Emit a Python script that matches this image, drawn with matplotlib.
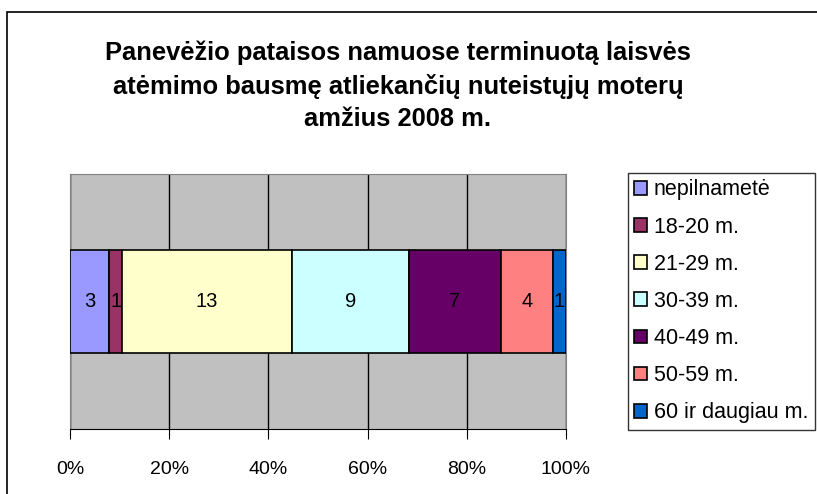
import matplotlib.pyplot as plt
from matplotlib.patches import Rectangle

plt.rcParams['font.family'] = ['Liberation Sans', 'DejaVu Sans']

# age groups of sentenced women, 2008
groups = ["nepilnametė", "18-20 m.", "21-29 m.", "30-39 m.", "40-49 m.", "50-59 m.", "60 ir daugiau m."]
counts = [3, 1, 13, 9, 7, 4, 1]
colors = ["#9999FF", "#993366", "#FFFFCC", "#CCFFFF", "#660066", "#FF8080", "#0066CC"]

total = sum(counts)
shares = [c / total * 100 for c in counts]

fig = plt.figure(figsize=(8.17, 4.94), dpi=100)
fig.patches.append(Rectangle((7 / 817, -0.1), 1.2, 1 - 12 / 494 + 0.1, transform=fig.transFigure,
                             fill=False, edgecolor="black", linewidth=1.2))

ax = fig.add_axes([70 / 817, 1 - 429 / 494, 496 / 817, 255 / 494])
ax.set_facecolor("#C0C0C0")

left = 0
for g, c, s, col in zip(groups, counts, shares, colors):
    ax.barh(0, s, left=left, height=0.4, color=col, edgecolor="black", linewidth=1.2, label=g, zorder=3)
    ax.text(left + s / 2, 0, str(c), ha="center", va="center", fontsize=14.5, color="black", zorder=4)
    left += s

ax.set_xlim(0, 100)
ax.set_ylim(-0.5, 0.5)
ax.set_xticks([0, 20, 40, 60, 80, 100])
ax.set_xticklabels([f"{v}%" for v in range(0, 101, 20)], fontsize=14)
ax.set_yticks([])
ax.xaxis.grid(True, color="black", linewidth=1, zorder=0)
ax.set_axisbelow(True)
ax.tick_params(axis="x", direction="out", length=7, pad=16)
for sp in ["top", "left", "right"]:
    ax.spines[sp].set_color("#808080")
ax.spines["bottom"].set_color("black")

fig.text(398 / 817, 1 - 86 / 494,
         "Panevėžio pataisos namuose terminuotą laisvės\natėmimo bausmę atliekančių nuteistųjų moterų\namžius 2008 m.",
         ha="center", va="center", fontsize=18.4, fontweight="bold", linespacing=1.43)

leg = fig.legend(loc="upper left", bbox_to_anchor=(628 / 817, 1 - 173 / 494), fontsize=15.5,
                 frameon=True, fancybox=False, edgecolor="black", borderaxespad=0,
                 handlelength=0.6, handleheight=0.6, handletextpad=0.3, labelspacing=0.75,
                 borderpad=0.3)
leg.get_frame().set_linewidth(1)

fig.savefig("out.png", dpi=100)
